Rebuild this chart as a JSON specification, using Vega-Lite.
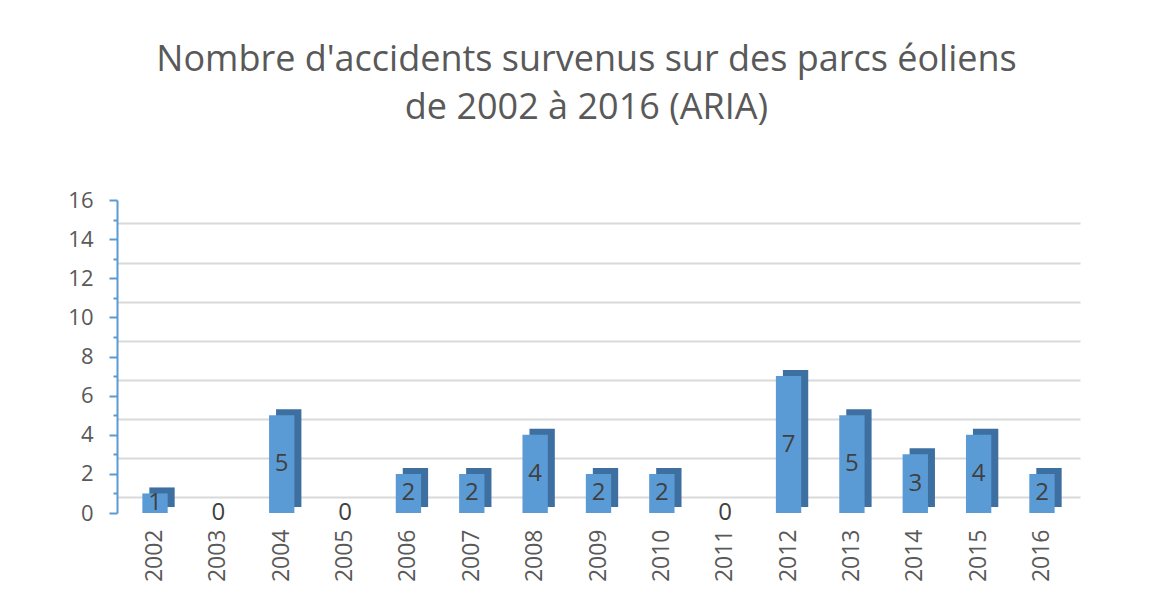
{
  "$schema": "https://vega.github.io/schema/vega-lite/v6.json",
  "width": 963,
  "height": 313,
  "autosize": {"type": "none"},
  "padding": {"left": 117, "top": 200, "right": 73, "bottom": 100},
  "background": "white",
  "title": {
    "text": ["Nombre d'accidents survenus sur des parcs éoliens", "de 2002 à 2016 (ARIA)"],
    "font": "Open Sans",
    "fontSize": 36,
    "fontWeight": "normal",
    "color": "#595959",
    "lineHeight": 48,
    "anchor": "middle",
    "dx": -12,
    "offset": 62
  },
  "data": {
    "values": [
      {"annee": "2002", "accidents": 1},
      {"annee": "2003", "accidents": 0},
      {"annee": "2004", "accidents": 5},
      {"annee": "2005", "accidents": 0},
      {"annee": "2006", "accidents": 2},
      {"annee": "2007", "accidents": 2},
      {"annee": "2008", "accidents": 4},
      {"annee": "2009", "accidents": 2},
      {"annee": "2010", "accidents": 2},
      {"annee": "2011", "accidents": 0},
      {"annee": "2012", "accidents": 7},
      {"annee": "2013", "accidents": 5},
      {"annee": "2014", "accidents": 3},
      {"annee": "2015", "accidents": 4},
      {"annee": "2016", "accidents": 2}
    ]
  },
  "encoding": {
    "x": {
      "field": "annee",
      "type": "nominal",
      "sort": null,
      "scale": {"paddingInner": 0.6, "paddingOuter": 0.4},
      "axis": {
        "title": null,
        "labelAngle": -90,
        "labelFont": "Open Sans",
        "labelFontSize": 23,
        "labelColor": "#595959",
        "labelPadding": 16,
        "ticks": false,
        "domain": false,
        "grid": false
      }
    }
  },
  "layer": [
    {
      "mark": {"type": "bar", "opacity": 0},
      "encoding": {
        "y": {
          "field": "accidents",
          "type": "quantitative",
          "scale": {"domain": [-0.8, 15.2], "nice": false, "zero": false},
          "axis": {
            "orient": "right",
            "title": null,
            "values": [0, 2, 4, 6, 8, 10, 12, 14, 16],
            "labels": false,
            "ticks": false,
            "domain": false,
            "grid": true,
            "gridColor": "#d9d9d9",
            "gridWidth": 2
          }
        }
      }
    },
    {
      "encoding": {
        "y": {
          "field": "accidents",
          "type": "quantitative",
          "scale": {"domain": [0, 16], "nice": false},
          "axis": {
            "orient": "left",
            "title": null,
            "values": [0, 1, 2, 3, 4, 5, 6, 7, 8, 9, 10, 11, 12, 13, 14, 15, 16],
            "labelExpr": "datum.value % 2 === 0 ? datum.label : ''",
            "labelFont": "Open Sans",
            "labelFontSize": 22,
            "labelColor": "#595959",
            "labelPadding": 16,
            "grid": false,
            "domainColor": "#5b9bd5",
            "domainWidth": 2,
            "tickColor": "#5b9bd5",
            "tickWidth": 2,
            "tickSize": {"condition": {"test": "datum.value % 2 === 1", "value": 4}, "value": 8}
          }
        }
      },
      "layer": [
        {
          "mark": {"type": "bar", "color": "#3d6fa0", "xOffset": 7, "yOffset": -6}
        },
        {
          "mark": {"type": "bar", "color": "#5b9bd5"}
        },
        {
          "mark": {"type": "text", "font": "Open Sans", "fontSize": 24, "color": "#404040", "baseline": "middle"},
          "encoding": {
            "y": {
              "field": "accidents",
              "type": "quantitative",
              "stack": "zero",
              "bandPosition": 0.5,
              "scale": {"domain": [0, 16], "nice": false},
              "axis": {
                "orient": "left",
                "title": null,
                "values": [0, 1, 2, 3, 4, 5, 6, 7, 8, 9, 10, 11, 12, 13, 14, 15, 16],
                "labelExpr": "datum.value % 2 === 0 ? datum.label : ''",
                "labelFont": "Open Sans",
                "labelFontSize": 22,
                "labelColor": "#595959",
                "labelPadding": 16,
                "grid": false,
                "domainColor": "#5b9bd5",
                "domainWidth": 2,
                "tickColor": "#5b9bd5",
                "tickWidth": 2,
                "tickSize": {"condition": {"test": "datum.value % 2 === 1", "value": 4}, "value": 8}
              }
            },
            "text": {"field": "accidents", "type": "quantitative"}
          }
        }
      ]
    }
  ],
  "resolve": {"scale": {"y": "independent"}},
  "config": {
    "view": {"stroke": null}
  }
}
